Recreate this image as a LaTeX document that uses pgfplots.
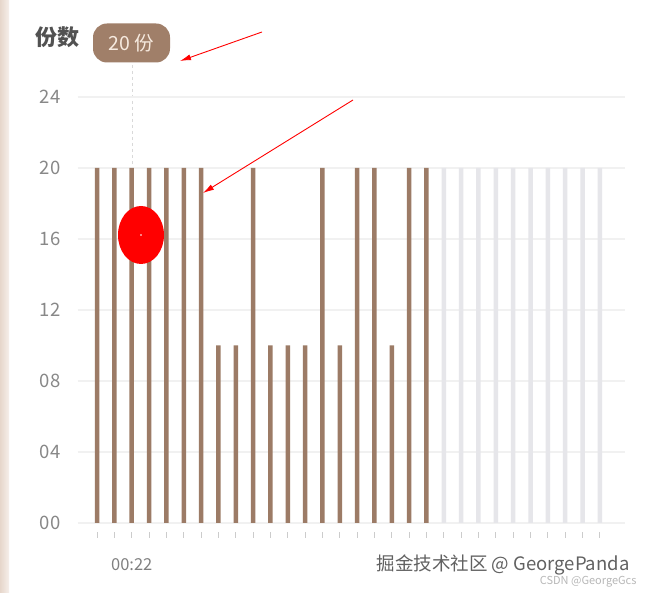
\documentclass[border=0pt]{standalone}
\usepackage{pgfplots}
\pgfplotsset{compat=1.18}
\usepackage{fontspec}
\setmainfont{Noto Sans CJK SC}
\usetikzlibrary{arrows.meta}
\definecolor{barbrown}{HTML}{9C7B66}
\definecolor{bargray}{HTML}{E6E6EA}
\definecolor{gridc}{HTML}{F1F1F1}
\definecolor{ticklab}{HTML}{888888}
\definecolor{tipfill}{HTML}{A07F69}
\definecolor{tiptext}{HTML}{F6EADF}
\definecolor{strip1}{HTML}{E6D6CB}
\definecolor{strip2}{HTML}{F6EFEA}
\begin{document}
\begin{tikzpicture}[x=1pt,y=1pt]
\path[use as bounding box, fill=white] (0,0) rectangle (649,593);
\shade[left color=strip1, right color=strip2] (0,0) rectangle (9,593);
% dotted guide line
\draw[gray!30, dash pattern=on 3pt off 3pt, line width=1pt] (132,528) -- (132,420);
\begin{axis}[
  at={(78pt,70pt)}, anchor=south west,
  scale only axis, width=547pt, height=426pt,
  xmin=-1.1, xmax=30.45, ymin=0, ymax=24,
  axis lines*=left, axis line style={draw=none},
  ymajorgrids, grid style={gridc, line width=1.2pt},
  ytick={0,4,8,12,16,20,24},
  yticklabels={00,04,08,12,16,20,24},
  ytick style={draw=none},
  yticklabel style={font=\fontsize{18.5}{20}\selectfont, text=ticklab, xshift=-8pt},
  xtick={0,...,29},
  xticklabels={,,00:22},
  tick align=outside, major tick length=6pt,
  xtick style={draw=gray!40, line width=0.8pt, yshift=-9pt},
  xticklabel style={font=\fontsize{16.5}{18}\selectfont, text=black!50, yshift=-26pt},
  clip=false,
  ybar, bar width=4.5pt, bar shift=0pt,
]
\addplot[fill=barbrown, draw=none] coordinates {
(0,20) (1,20) (2,20) (3,20) (4,20) (5,20) (6,20) (7,10) (8,10) (9,20)
(10,10) (11,10) (12,10) (13,20) (14,10) (15,20) (16,20) (17,10) (18,20) (19,20)};
\addplot[fill=bargray, draw=none] coordinates {
(20,20) (21,20) (22,20) (23,20) (24,20) (25,20) (26,20) (27,20) (28,20) (29,20)};
\end{axis}
% title and tooltip
\node[text=black!68, font=\fontsize{22}{24}\selectfont\bfseries] at (57,556) {份数};
\node[fill=tipfill, rounded corners=14pt, text=tiptext, minimum width=77pt, minimum height=39pt, inner sep=0pt, font=\fontsize{19.5}{21}\selectfont] at (131.5,550) {20 份};
% red annotations
\draw[red, line width=0.9pt, -{Latex[length=11pt,width=6pt]}] (262,561) -- (180,532);
\draw[red, line width=0.9pt, -{Latex[length=11pt,width=6pt]}] (353,493) -- (203,400);
\fill[red] (141,358) ellipse (23 and 29);
\fill[white] (141,358) circle (0.8);
% watermarks
\node[anchor=east, text=black!62, font=\fontsize{18.5}{22}\selectfont] at (633,28) {掘金技术社区 @ GeorgePanda};
\node[anchor=east, text=black!28, font=\fontsize{11}{13}\selectfont] at (640,11) {CSDN @GeorgeGcs};
\end{tikzpicture}
\end{document}
